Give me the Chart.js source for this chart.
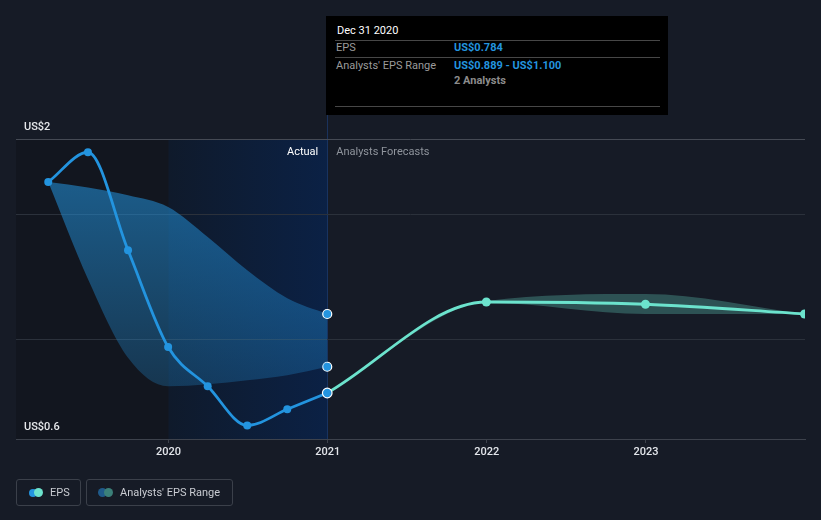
<!DOCTYPE html>
<html>
<head>
<meta charset="utf-8">
<script src="https://cdn.jsdelivr.net/npm/chart.js@4/dist/chart.umd.min.js"></script>
<style>
html,body{margin:0;padding:0;background:#161b26;}
#wrap{position:relative;width:821px;height:520px;font-family:Roboto,"Noto Sans",sans-serif;overflow:hidden;}
#c{position:absolute;left:0;top:0;}
#tip{position:absolute;left:326px;top:16px;width:342px;height:99px;background:#000;font-size:11px;}
#tip .t{position:absolute;line-height:14px;white-space:nowrap;}
#tip .hr{position:absolute;left:9px;width:325px;height:1px;background:#474747;}
.lbl{color:#9b9b9b;}
.val{color:#2394df;font-weight:700;}
.leg{position:absolute;top:479px;height:25px;border:1px solid #3b404a;border-radius:3px;font-size:11px;color:#c9ccd2;}
.leg span.txt{position:absolute;top:0;line-height:25px;white-space:nowrap;}
.dot{position:absolute;border-radius:50%;}
</style>
</head>
<body>
<div id="wrap">
<canvas id="c" width="821" height="520"></canvas>
<div id="tip">
  <div class="t" style="left:11px;top:8px;color:#fff;">Dec 31 2020</div>
  <div class="hr" style="top:24px;"></div>
  <div class="t lbl" style="left:10px;top:25px;">EPS</div>
  <div class="t val" style="left:128px;top:25px;">US$0.784</div>
  <div class="hr" style="top:41px;"></div>
  <div class="t lbl" style="left:10px;top:43px;">Analysts' EPS Range</div>
  <div class="t val" style="left:128px;top:43px;">US$0.889 - US$1.100</div>
  <div class="t" style="left:128px;top:58px;color:#8c8c8c;font-weight:700;">2 Analysts</div>
  <div class="hr" style="top:90px;"></div>
</div>
<div class="leg" style="left:16px;width:63px;">
  <div class="dot" style="left:12px;top:9px;width:8px;height:8px;background:#2394df;"></div>
  <div class="dot" style="left:17px;top:8px;width:9px;height:9px;background:#6ce3cd;"></div>
  <span class="txt" style="left:33px;">EPS</span>
</div>
<div class="leg" style="left:86px;width:145px;">
  <div class="dot" style="left:11px;top:8px;width:9px;height:9px;background:#1f5a8a;"></div>
  <div class="dot" style="left:17px;top:8px;width:9px;height:9px;background:#3b8079;"></div>
  <span class="txt" style="left:33px;">Analysts' EPS Range</span>
</div>
</div>
<script>
// ---- data ----
const actualDates = ['2019-03-31','2019-06-30','2019-09-30','2019-12-31','2020-03-31','2020-06-30','2020-09-30','2020-12-31'];
const actualEps = [1.628, 1.747, 1.355, 0.968, 0.811, 0.654, 0.719, 0.784];
const actualRangeHigh = [1.628, 1.606, 1.575, 1.528, 1.408, 1.275, 1.163, 1.100];
const actualRangeLow = [1.628, 1.240, 0.925, 0.811, 0.819, 0.835, 0.855, 0.889];
const forecastDates = ['2020-12-31','2021-12-31','2022-12-31','2023-12-31'];
const forecastEps = [0.784, 1.148, 1.139, 1.100];
const forecastHigh = [0.784, 1.152, 1.180, 1.100];
const forecastLow = [0.784, 1.145, 1.100, 1.100];
const xTickYears = [2020, 2021, 2022, 2023];
const yTickValues = [0.6, 1.0, 1.5, 1.8];
const yTickLabels = ['US$0.6', '', '', 'US$2'];
const axisStart = '2019-01-16';
const axisEnd = '2024-01-01';
const splitDate = '2020-12-31';

function decYear(s){
  const d = new Date(s + 'T00:00:00Z');
  const y = d.getUTCFullYear();
  const a = Date.UTC(y,0,1), b = Date.UTC(y+1,0,1);
  return y + (d.getTime() - a) / (b - a);
}
function pts(dates, vals){ return dates.map((d,i)=>({x:decYear(d), y:vals[i]})); }

const BLUE = '#2394df', TEAL = '#6ce3cd';
const nA = actualDates.length;
const endRadius = (n, r) => Array.from({length:n}, (_, i) => i === n-1 ? r : 0);

const bgPlugin = {
  id:'bgShade',
  beforeDraw(chart){
    const {ctx, chartArea:a, scales:{x}} = chart;
    const x1 = x.getPixelForValue(2020), x2 = x.getPixelForValue(decYear(splitDate));
    ctx.save();
    ctx.fillStyle = '#12161f';
    ctx.fillRect(a.left, a.top, x1 - a.left, a.bottom - a.top);
    const g = ctx.createLinearGradient(x1, 0, x2, 0);
    g.addColorStop(0, '#0f1a2b');
    g.addColorStop(1, '#0b2145');
    ctx.fillStyle = g;
    ctx.fillRect(x1, a.top, x2 - x1, a.bottom - a.top);
    ctx.strokeStyle = 'rgba(30,80,160,0.45)';
    ctx.lineWidth = 1;
    ctx.beginPath();
    ctx.moveTo(Math.round(x2)+0.5, 115);
    ctx.lineTo(Math.round(x2)+0.5, a.bottom);
    ctx.stroke();
    ctx.restore();
  },
  afterDraw(chart){
    const {ctx, chartArea:a, scales:{x}} = chart;
    const xs = x.getPixelForValue(decYear(splitDate));
    ctx.save();
    ctx.font = '11px Roboto';
    ctx.textBaseline = 'middle';
    ctx.textAlign = 'right';
    ctx.fillStyle = '#ffffff';
    ctx.fillText('Actual', xs - 9, a.top + 13);
    ctx.textAlign = 'left';
    ctx.fillStyle = '#8f949c';
    ctx.fillText('Analysts Forecasts', xs + 9, a.top + 13);
    ctx.restore();
  }
};

const blueGrad = (c) => {
  const a = c.chart.chartArea;
  if (!a) return 'rgba(35,148,223,0.4)';
  const g = c.chart.ctx.createLinearGradient(0, a.top, 0, a.bottom);
  g.addColorStop(0, 'rgba(35,148,223,0.62)');
  g.addColorStop(1, 'rgba(35,148,223,0.18)');
  return g;
};

new Chart(document.getElementById('c'), {
  type:'line',
  data:{
    datasets:[
      { // 0 actual range high
        data: pts(actualDates, actualRangeHigh), fill:'+1', backgroundColor: blueGrad,
        borderWidth:0, borderColor:'transparent', cubicInterpolationMode:'monotone',
        pointRadius: endRadius(nA, 4.5), pointBackgroundColor: BLUE, pointBorderColor:'#ffffff', pointBorderWidth:1.2, order:3
      },
      { // 1 actual range low
        data: pts(actualDates, actualRangeLow), fill:false,
        borderWidth:0, borderColor:'transparent', cubicInterpolationMode:'monotone',
        pointRadius: endRadius(nA, 4.5), pointBackgroundColor: BLUE, pointBorderColor:'#ffffff', pointBorderWidth:1.2, order:3
      },
      { // 2 forecast range high
        data: pts(forecastDates, forecastHigh), fill:'+1', backgroundColor:'rgba(108,227,205,0.28)',
        borderWidth:0, borderColor:'transparent', cubicInterpolationMode:'monotone', pointRadius:0, order:4
      },
      { // 3 forecast range low
        data: pts(forecastDates, forecastLow), fill:false,
        borderWidth:0, borderColor:'transparent', cubicInterpolationMode:'monotone', pointRadius:0, order:4
      },
      { // 4 forecast eps
        data: pts(forecastDates, forecastEps), fill:false, borderColor:TEAL, borderWidth:2.8,
        cubicInterpolationMode:'monotone', pointRadius:[0,4.5,4.5,4.5], pointBackgroundColor:TEAL, pointBorderColor:TEAL, pointBorderWidth:0, order:1
      },
      { // 5 actual eps
        data: pts(actualDates, actualEps), fill:false, borderColor:BLUE, borderWidth:2.8,
        cubicInterpolationMode:'monotone',
        pointRadius: actualEps.map((_, i) => i === nA-1 ? 4.8 : 4),
        pointBackgroundColor: BLUE,
        pointBorderColor: actualEps.map((_, i) => i === nA-1 ? '#ffffff' : BLUE),
        pointBorderWidth: actualEps.map((_, i) => i === nA-1 ? 1.2 : 0),
        order:0
      }
    ]
  },
  options:{
    responsive:false, animation:false, devicePixelRatio:1,
    layout:{padding:{left:16, right:16, top:139, bottom:0}},
    plugins:{legend:{display:false}, tooltip:{enabled:false}},
    events:[],
    scales:{
      x:{
        type:'linear', min:decYear(axisStart), max:decYear(axisEnd),
        afterBuildTicks(s){ s.ticks = xTickYears.map(v=>({value:v})); },
        afterFit(s){ s.height = 81; },
        grid:{drawOnChartArea:false, drawTicks:true, tickLength:4, color:'#3d424c'},
        border:{color:'#3d424c', width:1},
        ticks:{color:'#e2e5ea', padding:3, maxRotation:0, autoSkip:false, font:{family:'Roboto', size:11, weight:500}, callback:(v)=>String(v)}
      },
      y:{
        min:0.6, max:1.8,
        afterBuildTicks(s){ s.ticks = yTickValues.map(v=>({value:v})); },
        afterFit(s){ s.width = 0; },
        grid:{drawTicks:false, color:(c)=> c.tick && c.tick.value === 1.8 ? '#454a54' : '#2b313b', lineWidth:1},
        border:{display:false},
        ticks:{mirror:true, padding:8, labelOffset:-12, color:'#e6e8eb', font:{family:'Roboto', size:11, weight:500},
               callback:(v, i)=> yTickLabels[i]}
      }
    }
  },
  plugins:[bgPlugin]
});
</script>
</body>
</html>
